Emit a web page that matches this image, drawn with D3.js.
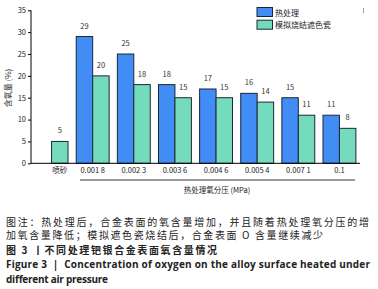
<!DOCTYPE html>
<html><head><meta charset="utf-8">
<script src="https://cdn.jsdelivr.net/npm/d3@7"></script>
<style>body{margin:0;background:#fff}svg{display:block}</style>
</head><body>
<svg id="c" width="378" height="289"></svg>
<script>
const categories = ["喷砂","0.001 8","0.002 3","0.003 6","0.004 6","0.005 4","0.007 1","0.1"];
const heatTreat = [null,29,25,18,17,16,15,11];
const porcelain = [5,20,18,15,15,14,11,8];
const seriesNames = ["热处理","模拟烧结遮色瓷"];
const yTicks = [0,5,10,15,20,25,30,35];
const xTitle = "热处理氧分压 (MPa)";
const yTitle = "含氧量 (%)";
const captionLines = [
  "图注：热处理后，合金表面的氧含量增加，并且随着热处理氧分压的增",
  "加氧含量降低；模拟遮色瓷烧结后，合金表面 O 含量继续减少"
];
const figCn = "图 3 丨不同处理钯银合金表面氧含量情况";
const figEn1 = "Figure 3  |  Concentration of oxygen on the alloy surface heated under";
const figEn2 = "different air pressure";

const colors = ["#428cf5","#74dcbc"];
const svg = d3.select("#c");
const font = "'Noto Sans CJK SC','Noto Sans',sans-serif";

const x = d3.scaleBand().domain(categories).range([31,360]).paddingInner(0.2).paddingOuter(0.1);
const sub = d3.scaleBand().domain([0,1]).range([0,x.bandwidth()]);
const y = d3.scaleLinear().domain([0,35]).range([163.3,10.3]);

const g = svg.append("g");
// bars
categories.forEach((c,i)=>{
  [heatTreat[i],porcelain[i]].forEach((v,s)=>{
    if(v==null) return;
    const bx = x(c)+sub(s);
    g.append("rect").attr("x",bx).attr("y",y(v)).attr("width",sub.bandwidth()).attr("height",y(0)-y(v))
      .attr("fill",colors[s]).attr("stroke","#1c2733").attr("stroke-width",1);
    g.append("text").attr("x",bx+sub.bandwidth()/2).attr("y",y(v)-8).attr("text-anchor","middle")
      .attr("font-family",font).attr("font-size",7.5).attr("fill","#333").text(v);
  });
});

// y axis
const ya = svg.append("g").attr("transform","translate(31,0)")
  .call(d3.axisLeft(y).tickValues(yTicks).tickSize(3).tickPadding(2));
ya.select(".domain").attr("stroke","#000").attr("d","M0,"+y(35)+"V"+y(0));
ya.selectAll("line").attr("stroke","#000");
ya.selectAll("text").attr("font-family",font).attr("font-size",7.5).attr("fill","#222");

// x axis
const xa = svg.append("g").attr("transform","translate(0,"+y(0)+")")
  .call(d3.axisBottom(x).tickSize(0).tickPadding(4));
xa.select(".domain").attr("stroke","#000").attr("d","M31,0H360");
xa.selectAll("text").attr("font-family",font).attr("font-size",7.5).attr("fill","#222")
  .attr("x",(d,i)=> i===0 ? sub(1)+sub.bandwidth()/2 - x.bandwidth()/2 : 0);

// bracket line and x title
svg.append("line").attr("x1",80).attr("x2",355).attr("y1",180).attr("y2",180).attr("stroke","#000").attr("stroke-width",0.8);
svg.append("text").attr("x",217).attr("y",193).attr("text-anchor","middle").attr("font-family",font)
  .attr("font-size",7.5).attr("fill","#222").text(xTitle);

// y title
svg.append("text").attr("transform","translate(11,88) rotate(-90)").attr("text-anchor","middle")
  .attr("font-family",font).attr("font-size",8).attr("fill","#222").text(yTitle);

// legend
seriesNames.forEach((n,i)=>{
  svg.append("rect").attr("x",257).attr("y",7.5+i*12.7).attr("width",15.5).attr("height",9)
    .attr("fill",colors[i]).attr("stroke","#1c2733").attr("stroke-width",1);
  svg.append("text").attr("x",275).attr("y",15.5+i*12.7).attr("font-family",font)
    .attr("font-size",8).attr("fill","#222").text(n);
});
svg.append("line").attr("x1",363.5).attr("x2",363.5).attr("y1",8).attr("y2",13).attr("stroke","#888").attr("stroke-width",0.8);

// caption
const cap = svg.append("g").attr("font-family",font).attr("fill","#222");
cap.append("text").attr("x",6).attr("y",225.5).attr("font-size",10).attr("textLength",363).attr("lengthAdjust","spacing").text(captionLines[0]);
cap.append("text").attr("x",6).attr("y",239).attr("font-size",10).attr("textLength",317).attr("lengthAdjust","spacing").text(captionLines[1]);
cap.append("text").attr("x",6).attr("y",254).attr("font-size",10).attr("font-weight","bold").attr("textLength",211).attr("lengthAdjust","spacing").text(figCn);
cap.append("text").attr("x",6).attr("y",268).attr("font-size",10).attr("font-weight","bold").attr("font-family","'Open Sans','Noto Sans',sans-serif").attr("textLength",364).attr("lengthAdjust","spacing").attr("xml:space","preserve").style("white-space","pre").text(figEn1);
cap.append("text").attr("x",6).attr("y",282.5).attr("font-size",10).attr("font-weight","bold").attr("font-family","'Open Sans','Noto Sans',sans-serif").attr("textLength",102).attr("lengthAdjust","spacing").text(figEn2);
</script>
</body></html>
